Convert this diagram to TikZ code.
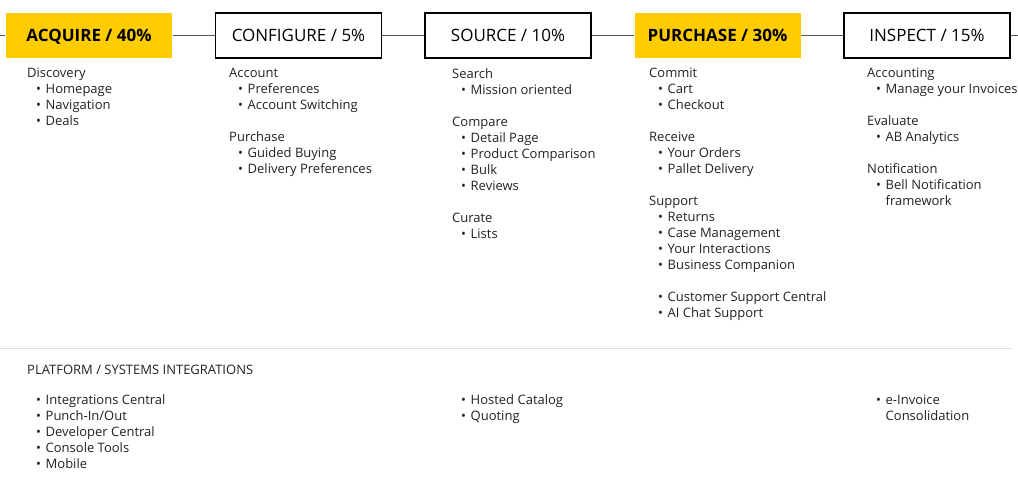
\documentclass[tikz,border=0pt]{standalone}
\usepackage{fontspec}
\setmainfont{Open Sans}
\usetikzlibrary{positioning}
\definecolor{stageyellow}{HTML}{FFCC00}
\definecolor{inkgray}{HTML}{222222}
\definecolor{rulegray}{HTML}{555555}
\definecolor{sepbeige}{HTML}{E3E1D3}
\newcommand{\bul}[1]{\hspace*{9pt}\makebox[9.5pt][l]{•}#1}
\newcommand{\cont}[1]{\hspace*{18.5pt}#1}
\newcommand{\gap}{\\[16pt]}

\begin{document}
\begin{tikzpicture}[x=1pt,y=-1pt,node distance=42.3pt,
    stage/.style={draw=black,line width=1.2pt,fill=white,minimum width=166pt,minimum height=45pt,inner sep=0pt,text depth=0pt,text=black,font=\fontsize{17}{20}\selectfont},
    hot/.style={stage,draw=none,fill=stageyellow,font=\fontsize{17}{20}\selectfont\bfseries},
    list/.style={anchor=north west,align=left,inner sep=0pt,text=inkgray,font=\fontsize{13}{16}\selectfont}]
    \useasboundingbox (0,0) rectangle (1018,485);
    % stages
    \node[hot] (acquire) at (89,35.5) {ACQUIRE / 40\%};
    \node[stage] (configure) [right=of acquire] {CONFIGURE / 5\%};
    \node[stage] (source) [right=of configure] {SOURCE / 10\%};
    \node[hot] (purchase) [right=of source] {PURCHASE / 30\%};
    \node[stage] (inspect) [right=of purchase] {INSPECT / 15\%};
    \coordinate (railL) at (0,35.5);
    \coordinate (railR) at (1018,35.5);
    \draw[rulegray,line width=1pt] (railL) -- (acquire);
    \draw[rulegray,line width=1pt] (acquire) -- (configure);
    \draw[rulegray,line width=1pt] (configure) -- (source);
    \draw[rulegray,line width=1pt] (source) -- (purchase);
    \draw[rulegray,line width=1pt] (purchase) -- (inspect);
    \draw[rulegray,line width=1pt] (inspect) -- (railR);
    % what each stage holds
    \node[list] (acqlist) at (27,68) {Discovery\\ \bul{Homepage}\\ \bul{Navigation}\\ \bul{Deals}};
    \node[list] (conflist) at (229,68) {Account\\ \bul{Preferences}\\ \bul{Account Switching}\gap
        Purchase\\ \bul{Guided Buying}\\ \bul{Delivery Preferences}};
    \node[list] (srclist) at (452,68) {Search\\ \bul{Mission oriented}\gap
        Compare\\ \bul{Detail Page}\\ \bul{Product Comparison}\\ \bul{Bulk}\\ \bul{Reviews}\gap
        Curate\\ \bul{Lists}};
    \node[list] (purlist) at (649,68) {Commit\\ \bul{Cart}\\ \bul{Checkout}\gap
        Receive\\ \bul{Your Orders}\\ \bul{Pallet Delivery}\gap
        Support\\ \bul{Returns}\\ \bul{Case Management}\\ \bul{Your Interactions}\\ \bul{Business Companion}\gap
        \bul{Customer Support Central}\\ \bul{AI Chat Support}};
    \node[list] (inslist) at (867,68) {Accounting\\ \bul{Manage your Invoices}\gap
        Evaluate\\ \bul{AB Analytics}\gap
        Notification\\ \bul{Bell Notification}\\ \cont{framework}};
    % platform band
    \coordinate (sepL) at (0,348);
    \coordinate (sepR) at (1012,348);
    \draw[sepbeige,line width=1pt] (sepL) -- (sepR);
    \node[list] (platform) at (27,364.5) {PLATFORM / SYSTEMS INTEGRATIONS};
    \node[list] (platacq) at (27,394.5) {\bul{Integrations Central}\\ \bul{Punch-In/Out}\\ \bul{Developer Central}\\ \bul{Console Tools}\\ \bul{Mobile}};
    \node[list] (platsrc) at (452,394.5) {\bul{Hosted Catalog}\\ \bul{Quoting}};
    \node[list] (platins) at (867,394.5) {\bul{e-Invoice}\\ \cont{Consolidation}};
\end{tikzpicture}
\end{document}
